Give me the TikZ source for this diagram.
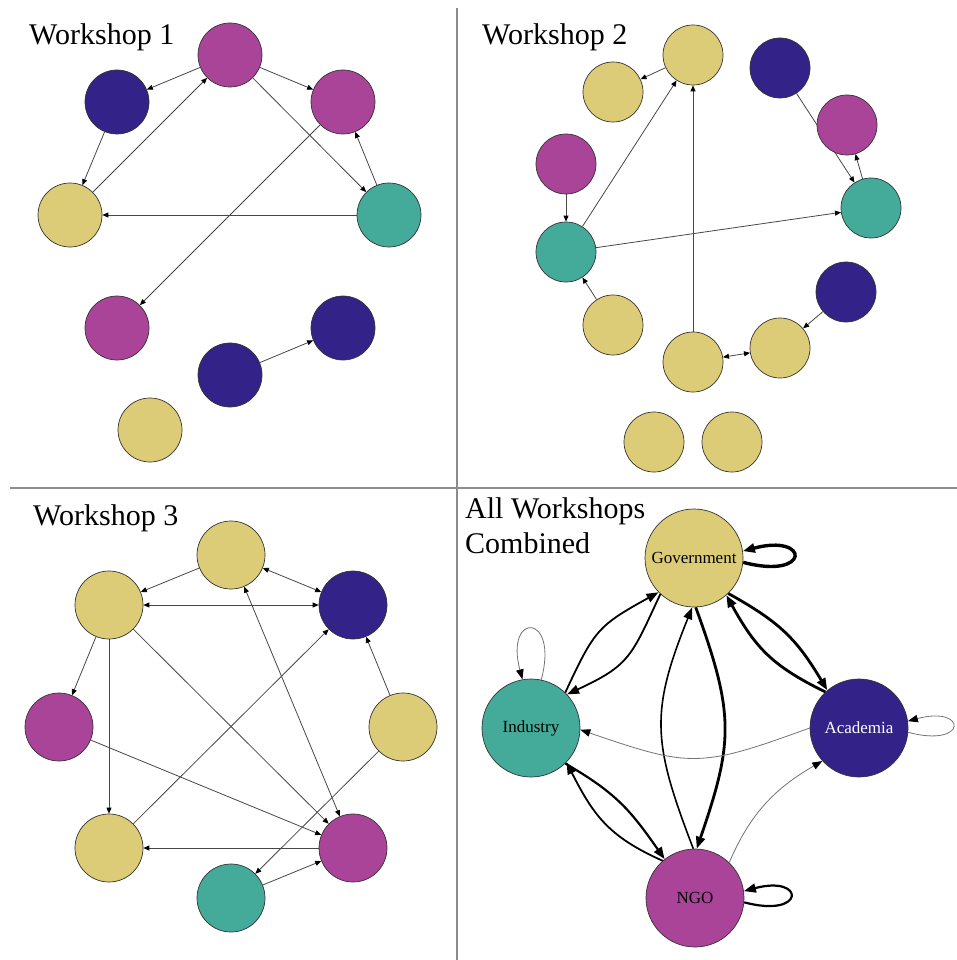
\documentclass[tikz,border=0pt]{standalone}
\usepackage{fontspec}
\setmainfont{Liberation Serif}
\usetikzlibrary{arrows.meta,backgrounds}
\definecolor{sectorsand}{HTML}{DDCC77}
\definecolor{sectorteal}{HTML}{44AA99}
\definecolor{sectorwine}{HTML}{AA4499}
\definecolor{sectorindigo}{HTML}{332288}

\tikzset{
  actor/.style={circle, draw=black!80, line width=0.7pt, inner sep=0pt},
  sgov/.style={actor, fill=sectorsand},
  sind/.style={actor, fill=sectorteal},
  sngo/.style={actor, fill=sectorwine},
  saca/.style={actor, fill=sectorindigo},
  wstitle/.style={anchor=base west, inner sep=0pt, font=\fontsize{30}{35}\selectfont},
  link/.style={draw=black!72, line width=0.8pt, -{Triangle[length=6pt,width=5pt,color=black]}},
  dlink/.style={link, {Triangle[length=6pt,width=5pt,color=black]}-{Triangle[length=6pt,width=5pt,color=black]}},
  flow/.style={draw=black, -{Triangle[length=12pt,width=9pt]}},
  weak/.style={draw=black!55, line width=0.8pt, -{Triangle[length=10pt,width=7.5pt,color=black]}},
  divider/.style={draw=black!45, line width=1.2pt}
}

\begin{document}
\begin{tikzpicture}[x=1pt, y=1pt]
    \useasboundingbox (0,0) rectangle (957,-960);
    \draw[divider] (457,-8) -- (457,-960);
    \draw[divider] (10,-488) -- (957,-488);

    % Workshop 1
    \node[wstitle] (title1) at (29,-45) {Workshop 1};
    \begin{scope}[every node/.append style={minimum size=64pt}]
        \node[sngo] (w1a) at (230,-55) {};
        \node[saca] (w1b) at (117,-102) {};
        \node[sngo] (w1c) at (343,-102) {};
        \node[sgov] (w1d) at (70,-215) {};
        \node[sind] (w1e) at (389,-215) {};
        \node[sngo] (w1f) at (117,-328) {};
        \node[saca] (w1g) at (343,-328) {};
        \node[saca] (w1h) at (230,-375) {};
        \node[sgov] (w1i) at (150,-430) {};
    \end{scope}
    \begin{scope}[on background layer]
        \draw[link] (w1a) -- (w1b);
        \draw[link] (w1d) -- (w1a);
        \draw[link] (w1a) -- (w1c);
        \draw[link] (w1a) -- (w1e);
        \draw[link] (w1e) -- (w1c);
        \draw[link] (w1b) -- (w1d);
        \draw[link] (w1e) -- (w1d);
        \draw[link] (w1c) -- (w1f);
        \draw[link] (w1h) -- (w1g);
    \end{scope}

    % Workshop 2
    \node[wstitle] (title2) at (482,-45) {Workshop 2};
    \begin{scope}[every node/.append style={minimum size=60pt}]
        \node[sgov] (w2a) at (693,-55) {};
        \node[sgov] (w2b) at (613,-92) {};
        \node[saca] (w2c) at (780,-68) {};
        \node[sngo] (w2d) at (847,-125) {};
        \node[sngo] (w2e) at (566,-164) {};
        \node[sind] (w2f) at (871,-208) {};
        \node[sind] (w2g) at (566,-252) {};
        \node[saca] (w2h) at (846,-292) {};
        \node[sgov] (w2i) at (613,-325) {};
        \node[sgov] (w2j) at (780,-348) {};
        \node[sgov] (w2k) at (693,-362) {};
        \node[sgov] (w2l) at (654,-442) {};
        \node[sgov] (w2m) at (732,-442) {};
    \end{scope}
    \begin{scope}[on background layer]
        \draw[link] (w2a) -- (w2b);
        \draw[link] (w2g) -- (w2a);
        \draw[link] (w2k) -- (w2a);
        \draw[link] (w2e) -- (w2g);
        \draw[link] (w2g) -- (w2f);
        \draw[link] (w2i) -- (w2g);
        \draw[link] (w2c) -- (w2f);
        \draw[link] (w2f) -- (w2d);
        \draw[link] (w2h) -- (w2j);
        \draw[dlink] (w2j) -- (w2k);
    \end{scope}

    % Workshop 3
    \node[wstitle] (title3) at (33,-525) {Workshop 3};
    \begin{scope}[every node/.append style={minimum size=68pt}]
        \node[sgov] (w3a) at (231,-555) {};
        \node[sgov] (w3b) at (109,-605) {};
        \node[saca] (w3c) at (353,-605) {};
        \node[sngo] (w3d) at (59,-727) {};
        \node[sgov] (w3e) at (403,-727) {};
        \node[sgov] (w3f) at (109,-848) {};
        \node[sngo] (w3g) at (353,-848) {};
        \node[sind] (w3h) at (231,-898) {};
    \end{scope}
    \begin{scope}[on background layer]
        \draw[link] (w3a) -- (w3b);
        \draw[dlink] (w3a) -- (w3c);
        \draw[dlink] (w3b) -- (w3c);
        \draw[link] (w3b) -- (w3d);
        \draw[link] (w3b) -- (w3f);
        \draw[link] (w3b) -- (w3g);
        \draw[dlink] (w3a) -- (w3g);
        \draw[link] (w3f) -- (w3c);
        \draw[link] (w3e) -- (w3c);
        \draw[link] (w3d) -- (w3g);
        \draw[link] (w3g) -- (w3f);
        \draw[link] (w3e) -- (w3h);
        \draw[link] (w3h) -- (w3g);
    \end{scope}

    % All workshops combined
    \node[anchor=north west, align=left, inner sep=0pt, font=\fontsize{30}{35}\selectfont] (title4) at (465,-497) {All Workshops\\Combined};
    \begin{scope}[every node/.append style={minimum size=98pt, line width=0.8pt, font=\fontsize{17}{20}\selectfont}]
        \node[sgov] (gov) at (694,-558) {Government};
        \node[sind] (ind) at (531,-728) {Industry};
        \node[saca, text=white] (aca) at (859,-728) {Academia};
        \node[sngo] (ngo) at (695,-898) {NGO};
    \end{scope}
    \draw[flow, line width=1.8pt] (ind.46) to[out=65, in=209, looseness=1.3] (gov.224);
    \draw[flow, line width=1.8pt] (gov.227) to[out=245, in=25, looseness=1.3] (ind.43);
    \draw[flow, line width=2.8pt] (gov.314) to[out=331, in=121, looseness=1.1] (aca.130);
    \draw[flow, line width=2.8pt] (aca.133) to[out=154, in=299, looseness=1.1] (gov.311);
    \draw[flow, line width=1.6pt] (ngo.92) to[out=111, in=248, looseness=1.2] (gov.268);
    \draw[flow, line width=2.8pt] (gov.272) to[out=290, in=71, looseness=1.2] (ngo.88);
    \draw[weak] (aca.180) to[out=200, in=-19, looseness=1.3] (ind.-2);
    \draw[weak] (ngo.46) to[out=67, in=210] (aca.222);
    \draw[flow, line width=2.2pt] (ind.314) to[out=330, in=125, looseness=1.1] (ngo.128);
    \draw[flow, line width=1.8pt] (ngo.131) to[out=156, in=297, looseness=1.1] (ind.316);
    \draw[flow, line width=3.4pt] (gov.-5) to[out=-15, in=15, distance=70pt] (gov.8);
    \draw[flow, line width=2.2pt] (ngo.-5) to[out=-15, in=15, distance=64pt] (ngo.8);
    \draw[weak] (ind.78) to[out=75, in=105, distance=70pt] (ind.100);
    \draw[weak] (aca.-5) to[out=-15, in=15, distance=62pt] (aca.8);
\end{tikzpicture}
\end{document}
